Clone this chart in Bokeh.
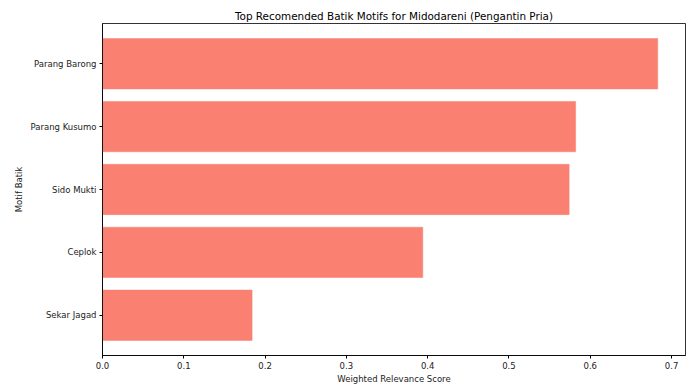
from bokeh.plotting import figure
from bokeh.models import Range1d, FactorRange, FixedTicker, NumeralTickFormatter
from bokeh.embed import file_html
from bokeh.resources import INLINE

motifs = ["Sekar Jagad", "Ceplok", "Sido Mukti", "Parang Kusumo", "Parang Barong"]
scores = [0.184, 0.394, 0.574, 0.582, 0.683]
x_ticks = [0.0, 0.1, 0.2, 0.3, 0.4, 0.5, 0.6, 0.7]

FONT = "DejaVu Sans"

p = figure(
    y_range=FactorRange(factors=motifs, range_padding=0.056),
    x_range=Range1d(0, max(scores) * 1.05),
    frame_width=583, frame_height=332,
    min_border_left=102, min_border_top=23, min_border_right=4, min_border_bottom=28,
    output_backend="svg", toolbar_location=None,
    title="Top Recomended Batik Motifs for Midodareni (Pengantin Pria)",
)

p.hbar(y=motifs, right=scores, left=0, height=0.8, fill_color="#FA8072",
       line_color="#FA8072", line_alpha=0.5)

p.title.align = "center"
p.title.text_font = FONT
p.title.text_font_size = "10.4px"
p.title.text_font_style = "normal"
p.title.text_color = "#000000"
p.title.standoff = 3
p.title.offset = 0

p.xgrid.visible = False
p.ygrid.visible = False
p.outline_line_color = "#000000"
p.outline_line_width = 1
p.outline_line_alpha = 0.8

for ax in (p.xaxis[0], p.yaxis[0]):
    ax.axis_line_color = "#000000"
    ax.axis_line_alpha = 0.8
    ax.major_tick_line_color = "#000000"
    ax.major_tick_out = 3
    ax.major_tick_in = 0
    ax.minor_tick_out = 0
    ax.minor_tick_in = 0
    ax.major_label_text_font = FONT
    ax.major_label_text_font_size = "8.5px"
    ax.major_label_text_color = "#222222"
    ax.axis_label_text_font = FONT
    ax.axis_label_text_font_size = "8.5px"
    ax.axis_label_text_font_style = "normal"
    ax.axis_label_text_color = "#222222"
    ax.major_label_standoff = 3
    ax.axis_label_standoff = 4

p.xaxis.axis_label_standoff = 2
p.xaxis.ticker = FixedTicker(ticks=x_ticks)
p.xaxis.formatter = NumeralTickFormatter(format="0.0")
p.xaxis.axis_label = "Weighted Relevance Score"
p.yaxis.axis_label = "Motif Batik"

open("out.html", "w").write(file_html(p, INLINE))
